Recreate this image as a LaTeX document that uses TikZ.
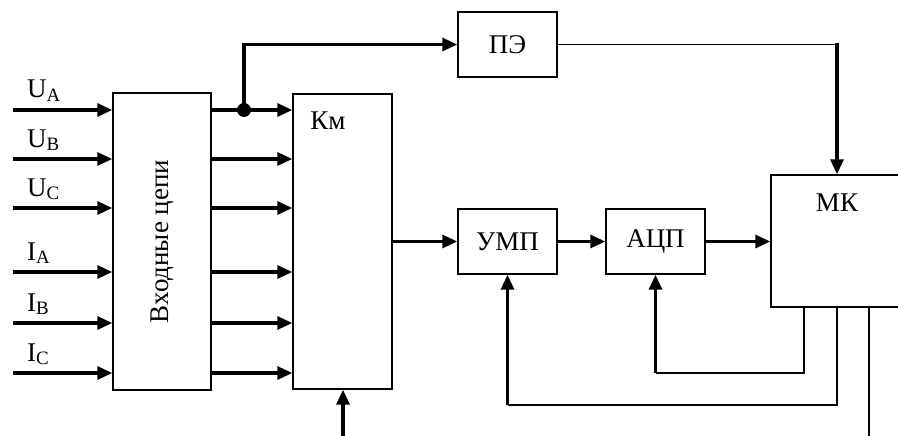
\documentclass[tikz,border=0pt]{standalone}
\usepackage{fontspec}
\setmainfont{Liberation Serif}
\usetikzlibrary{arrows.meta,positioning,calc}

\begin{document}
\begin{tikzpicture}[x=1pt,y=-1pt,
    bx/.style={draw,line width=1.4pt,inner sep=0pt,font=\fontsize{27}{30}\selectfont},
    ar/.style={-{Triangle[length=15pt,width=13pt]},line width=3.2pt},
    ln/.style={line width=1.5pt},
    lbl/.style={font=\fontsize{27}{30}\selectfont,inner sep=0pt},
  ]
    \useasboundingbox (0,0) rectangle (898,436);

    % blocks
    \node[bx,minimum width=98,minimum height=297] (vc) at (162,241.5) {};
    \node[lbl,rotate=90] (vct) at (vc.center) {Входные цепи};
    \node[bx,minimum width=99,minimum height=295] (km) at (342.5,241.5) {};
    \node[lbl] (kmt) at (328,121) {Км};
    \node[bx,minimum width=99,minimum height=65] (pe) at (507.5,44.5) {ПЭ};
    \node[bx,minimum width=99,minimum height=65] (ump) at (507.5,241.5) {УМП};
    \node[bx,minimum width=99,minimum height=65] (adc) at (655.5,241.5) {АЦП};
    \node[bx,minimum width=128,minimum height=132] (mk) at (835,241) {};
    \node[lbl] (mkt) at (837,203) {МК};

    % inputs and outputs of the input circuits
    \foreach \y/\t [count=\i] in {110/U\textsubscript{A},159/U\textsubscript{B},
        208/U\textsubscript{C},272/I\textsubscript{A},323/I\textsubscript{B},
        373/I\textsubscript{C}}{
      \coordinate (in\i) at (13,\y);
      \node[lbl,anchor=base west] (it\i) at (27,\y-12) {\t};
      \draw[ar] (in\i) -- (in\i -| vc.west);
      \draw[ar] (in\i -| vc.east) -- (in\i -| km.west);
    }

    % branch to the power element
    \coordinate (br) at (244,110);
    \fill (br) circle (7);
    \draw[ar] (br) |- (pe.west);
    \draw[ln] (pe.east) -| (837,60);
    \draw[ar] (837,43) -- (mk.north -| 837,0);

    % signal chain
    \draw[ar] (km.east |- ump.west) -- (ump.west);
    \draw[ar] (ump) -- (adc);
    \draw[ar] (adc.east) -- (adc.east -| mk.west);
    \coordinate (kmin) at (343,436);
    \draw[ar] (kmin) -- (kmin |- km.south);

    % feedback from the microcontroller
    \coordinate (f1) at (804,373);
    \coordinate (f2) at (837,405);
    \draw[ln] (mk.south -| f1) -- (f1) -- (f1 -| adc.south);
    \draw[ar] (f1 -| adc.south) -- (adc.south);
    \draw[ln] (mk.south -| f2) -- (f2) -- (f2 -| ump.south);
    \draw[ar] (f2 -| ump.south) -- (ump.south);
    \coordinate (out) at (869,436);
    \draw[ln] (mk.south -| out) -- (out);
\end{tikzpicture}
\end{document}
